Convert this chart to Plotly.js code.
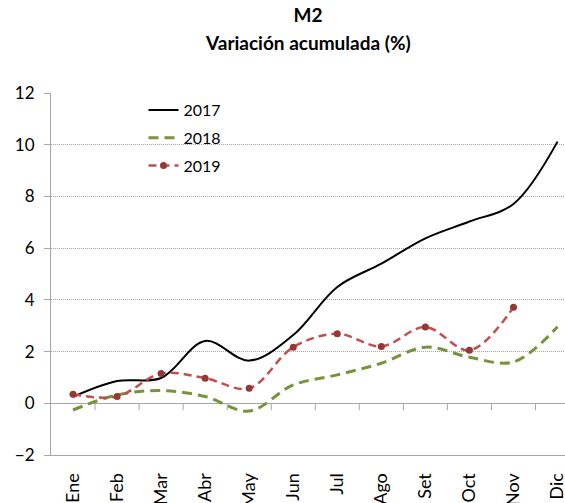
<!DOCTYPE html>
<html>
<head>
<meta charset="utf-8">
<script src="https://cdn.plot.ly/plotly-3.0.1.min.js"></script>
<style>
  html, body { margin: 0; padding: 0; background: #fff; }
  #chart { width: 565px; height: 503px; }
</style>
</head>
<body>
<div id="chart"></div>
<script>
// Meses (eje X)
const meses = ['Ene', 'Feb', 'Mar', 'Abr', 'May', 'Jun', 'Jul', 'Ago', 'Set', 'Oct', 'Nov', 'Dic'];

// Variación acumulada de M2 (%)
const serie2017 = [0.25, 0.86, 0.98, 2.41, 1.65, 2.64, 4.5, 5.4, 6.38, 7.03, 7.71, 10.12];
const serie2018 = [-0.26, 0.32, 0.49, 0.26, -0.3, 0.71, 1.1, 1.55, 2.17, 1.78, 1.6, 2.96];
const serie2019 = [0.35, 0.26, 1.15, 0.97, 0.58, 2.17, 2.69, 2.2, 2.95, 2.05, 3.71];

const FONT = 'Lato, "Open Sans", sans-serif';
const GRID = '#a6a6a6';

const traces = [
    {
        x: meses, y: serie2017, name: '2017', legendgroup: 'a',
        type: 'scatter', mode: 'lines',
        line: { color: '#000000', width: 2, shape: 'spline', smoothing: 1 }
    },
    {
        x: meses, y: serie2018, name: '2018', legendgroup: 'b',
        type: 'scatter', mode: 'lines',
        line: { color: '#77933c', width: 3, dash: '10px,6px', shape: 'spline', smoothing: 1 }
    },
    {
        x: meses.slice(0, serie2019.length), y: serie2019, name: '2019', legendgroup: 'c',
        type: 'scatter', mode: 'lines+markers',
        line: { color: '#c0504d', width: 2.5, dash: '8px,5px', shape: 'spline', smoothing: 1 },
        marker: { color: '#953735', size: 7 }
    }
];

// marcas del eje entre categorías, sobre la línea del cero
const tickShapes = meses.slice(0, -1).map((m, i) => ({
    type: 'line', xref: 'x', yref: 'y',
    x0: i + 0.5, x1: i + 0.5, y0: 0, y1: -0.27,
    line: { color: GRID, width: 1 }
}));

const layout = {
    width: 565,
    height: 503,
    font: { family: FONT, size: 16, color: '#000' },
    paper_bgcolor: '#fff',
    plot_bgcolor: '#fff',
    margin: { l: 51, r: 0, t: 93, b: 48 },
    title: {
        text: '<b>M2</b>',
        font: { family: FONT, size: 19, color: '#000' },
        x: 0.5, xref: 'paper', xanchor: 'center',
        y: 1 - 15 / 503, yref: 'container', yanchor: 'middle'
    },
    annotations: [{
        text: '<b>Variación acumulada (%)</b>',
        font: { family: FONT, size: 19, color: '#000' },
        xref: 'paper', yref: 'paper',
        x: 0.5, y: (455 - 42) / 362,
        xanchor: 'center', yanchor: 'middle',
        showarrow: false
    }],
    showlegend: true,
    legend: {
        x: 0.18, y: 1.0, xanchor: 'left', yanchor: 'top',
        font: { family: FONT, size: 16 },
        bgcolor: 'rgba(0,0,0,0)',
        traceorder: 'grouped',
        tracegroupgap: 4
    },
    xaxis: {
        type: 'category',
        range: [-0.5, 11.17],
        tickangle: -90,
        ticks: '',
        ticklabelstandoff: 10,
        showgrid: false,
        showline: true,
        linecolor: GRID,
        linewidth: 1,
        zeroline: false,
        tickfont: { family: FONT, size: 18 }
    },
    yaxis: {
        range: [-2, 12],
        dtick: 2,
        tick0: 0,
        ticks: 'outside',
        ticklen: 6,
        tickcolor: GRID,
        ticklabelstandoff: 6,
        showline: true,
        linecolor: GRID,
        linewidth: 1,
        showgrid: true,
        gridcolor: GRID,
        griddash: '1px,1px',
        zeroline: true,
        zerolinecolor: GRID,
        zerolinewidth: 1,
        tickfont: { family: FONT, size: 17 }
    },
    shapes: tickShapes
};

Plotly.newPlot('chart', traces, layout, { displayModeBar: false, staticPlot: true });
</script>
</body>
</html>
